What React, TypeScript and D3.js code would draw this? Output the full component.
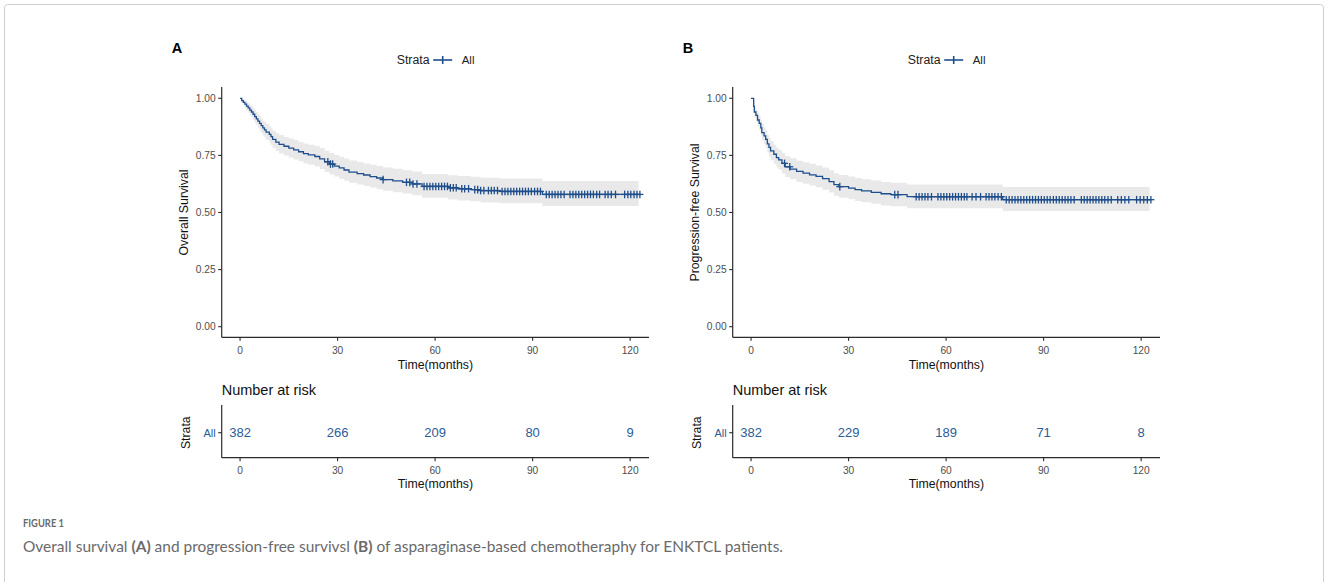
import React from "react";
import * as d3 from "d3";

// ---------- DATA ----------
const xTicks = [0, 30, 60, 90, 120];
const yTicks = [0, 0.25, 0.5, 0.75, 1.0];
const riskTimes = [0, 30, 60, 90, 120];
const osRisk = [382, 266, 209, 80, 9];
const pfsRisk = [382, 229, 189, 71, 8];

const osTime = [0, 0.5, 1, 1.5, 2, 2.5, 3, 3.5, 4, 4.5, 5, 5.5, 6, 6.5, 7, 7.5, 8, 9, 9.5, 10, 11, 12, 13.5, 15, 16.5, 18, 19.5, 21, 23, 24.5, 26, 27.5, 29, 30.5, 32, 33.5, 36, 38, 40, 42, 44, 47, 50, 53, 56, 64, 67, 71, 74, 80, 93];
const osSurv = [1, 0.99, 0.982, 0.974, 0.966, 0.958, 0.948, 0.94, 0.93, 0.92, 0.91, 0.9, 0.89, 0.88, 0.87, 0.862, 0.852, 0.842, 0.832, 0.82, 0.808, 0.798, 0.79, 0.782, 0.774, 0.766, 0.758, 0.752, 0.745, 0.735, 0.722, 0.712, 0.703, 0.695, 0.686, 0.677, 0.67, 0.664, 0.657, 0.651, 0.644, 0.638, 0.632, 0.625, 0.614, 0.608, 0.604, 0.6, 0.596, 0.592, 0.579];
const osLower = [1, 0.98, 0.968, 0.958, 0.948, 0.938, 0.926, 0.916, 0.905, 0.893, 0.882, 0.871, 0.859, 0.848, 0.837, 0.828, 0.817, 0.806, 0.795, 0.782, 0.769, 0.758, 0.75, 0.741, 0.732, 0.724, 0.715, 0.709, 0.701, 0.69, 0.677, 0.666, 0.657, 0.648, 0.639, 0.63, 0.622, 0.616, 0.609, 0.602, 0.595, 0.589, 0.583, 0.575, 0.564, 0.557, 0.553, 0.549, 0.544, 0.54, 0.528];
const osUpper = [1, 1.0, 0.995, 0.99, 0.984, 0.978, 0.97, 0.964, 0.956, 0.948, 0.939, 0.93, 0.921, 0.912, 0.903, 0.896, 0.887, 0.878, 0.869, 0.859, 0.848, 0.839, 0.831, 0.824, 0.817, 0.809, 0.802, 0.797, 0.791, 0.782, 0.77, 0.76, 0.752, 0.744, 0.736, 0.728, 0.721, 0.715, 0.709, 0.703, 0.697, 0.691, 0.685, 0.679, 0.669, 0.663, 0.66, 0.656, 0.652, 0.649, 0.638];
const osCensor = [27.0, 27.8, 28.5, 44.0, 51.2, 52.2, 53.2, 54.4, 56.6, 57.5, 58.4, 59.3, 60.2, 61.1, 62.0, 62.9, 63.8, 64.7, 65.6, 66.5, 68.2, 69.1, 70.3, 72.2, 73.1, 74.0, 75.0, 76.4, 77.3, 78.2, 79.2, 80.6, 81.5, 82.4, 83.3, 84.2, 85.1, 86.0, 86.9, 87.8, 88.7, 89.6, 90.6, 91.5, 92.4, 94.2, 95.1, 96.0, 96.9, 97.8, 98.7, 99.7, 101.5, 102.4, 103.3, 104.2, 105.1, 106.0, 106.9, 107.8, 108.7, 109.7, 110.6, 112.3, 113.2, 114.2, 115.5, 118.3, 119.3, 120.2, 121.2, 122.1, 123.0];

const pfsTime = [0, 0.8, 1.0, 1.5, 2.0, 2.5, 3.0, 3.3, 4, 4.5, 5, 5.5, 6, 7, 7.8, 8.5, 9.5, 10.5, 12, 14, 16, 18, 20, 22, 24, 25.5, 27, 30, 32, 34, 37, 40, 43, 48, 77.4];
const pfsSurv = [1, 0.965, 0.94, 0.925, 0.905, 0.89, 0.87, 0.85, 0.835, 0.82, 0.8, 0.785, 0.77, 0.755, 0.74, 0.73, 0.715, 0.7, 0.69, 0.68, 0.672, 0.665, 0.658, 0.648, 0.635, 0.622, 0.613, 0.607, 0.6, 0.595, 0.588, 0.582, 0.578, 0.569, 0.556];
const pfsLower = [1, 0.945, 0.916, 0.898, 0.876, 0.859, 0.837, 0.815, 0.798, 0.782, 0.761, 0.745, 0.729, 0.713, 0.697, 0.687, 0.671, 0.655, 0.645, 0.634, 0.626, 0.618, 0.611, 0.6, 0.587, 0.573, 0.564, 0.558, 0.55, 0.545, 0.538, 0.531, 0.527, 0.518, 0.506];
const pfsUpper = [1, 0.984, 0.963, 0.951, 0.934, 0.921, 0.904, 0.886, 0.872, 0.858, 0.84, 0.826, 0.812, 0.797, 0.783, 0.774, 0.76, 0.746, 0.737, 0.727, 0.72, 0.713, 0.706, 0.697, 0.685, 0.672, 0.664, 0.658, 0.651, 0.646, 0.64, 0.634, 0.63, 0.622, 0.612];
const pfsCensor = [10.3, 11.9, 27.3, 44.2, 45.2, 50.8, 51.7, 52.6, 53.5, 54.4, 55.5, 57.5, 58.4, 59.3, 60.2, 61.1, 62.0, 62.9, 63.8, 64.7, 65.6, 66.4, 68.0, 69.2, 70.6, 72.3, 73.2, 74.1, 75.0, 76.0, 77.0, 78.5, 79.4, 80.3, 81.2, 82.1, 83.0, 83.9, 84.8, 85.7, 86.6, 87.5, 88.4, 89.3, 90.2, 91.1, 92.0, 93.0, 93.9, 94.8, 95.7, 96.6, 97.5, 98.4, 99.4, 101.6, 102.5, 103.4, 104.3, 105.2, 106.1, 107.0, 107.9, 108.8, 109.8, 110.8, 112.8, 113.9, 115.0, 116.2, 118.6, 119.7, 120.8, 121.9, 123.0];

const endTime = 123;
const bandEnd = 122.6;

// ---------- STYLE ----------
const FONT = "'Liberation Sans', Arial, sans-serif";
const LINE = "#1F4E8C";
const BAND = "#E9E9E9";
const AXIS = "#2b2b2b";
const TICKTXT = "#4D4D4D";
const RISKCOL = "#2C5C97";

type PanelProps = {
  letter: string;
  left: number;
  yTitle: string;
  time: number[];
  surv: number[];
  lower: number[];
  upper: number[];
  censor: number[];
  risk: number[];
};

function Panel({ letter, left, yTitle, time, surv, lower, upper, censor, risk }: PanelProps) {
  const axisLeft = left;
  const axisRight = left + 427.3;
  const x = d3.scaleLinear().domain([-5.65, 125.8]).range([axisLeft, axisRight]);
  const y = d3.scaleLinear().domain([-0.0465, 1.0494]).range([337.3, 87]);
  const yTop = 87;
  const yBot = 337.3;

  const pts = time.map((t, i) => ({ t, s: surv[i], lo: lower[i], hi: upper[i] }));
  const linePts = [...pts, { ...pts[pts.length - 1], t: endTime }];
  const bandPts = [...pts, { ...pts[pts.length - 1], t: bandEnd }];

  const line = d3.line<any>().x((d) => x(d.t)).y((d) => y(d.s)).curve(d3.curveStepAfter);
  const area = d3
    .area<any>()
    .x((d) => x(d.t))
    .y0((d) => y(d.lo))
    .y1((d) => y(d.hi))
    .curve(d3.curveStepAfter);

  const survAt = (t: number) => {
    let s = 1;
    for (let i = 0; i < time.length; i++) if (time[i] <= t) s = surv[i];
    return s;
  };

  // risk table
  const rTop = 405;
  const rBot = 457.7;
  const rowY = 432.7;
  const xr = x;

  return (
    <g fontFamily={FONT}>
      <text x={axisLeft - 50} y={53} fontSize={14.5} fontWeight="bold" fill="#000">
        {letter}
      </text>
      {/* legend */}
      <g>
        <text x={axisLeft + 175} y={64.3} fontSize={12.3} fill="#222">Strata</text>
        <line x1={axisLeft + 211.5} x2={axisLeft + 230.5} y1={60} y2={60} stroke={LINE} strokeWidth={1.6} />
        <line x1={axisLeft + 221} x2={axisLeft + 221} y1={56} y2={64} stroke={LINE} strokeWidth={1.6} />
        <text x={axisLeft + 240} y={64.3} fontSize={11.5} fill="#222">All</text>
      </g>
      {/* band and curve */}
      <path d={area(bandPts) || ""} fill={BAND} stroke="none" />
      <path d={line(linePts) || ""} fill="none" stroke={LINE} strokeWidth={1.3} />
      {censor.map((c, i) => {
        const cx = x(c);
        const cy = y(survAt(c));
        return (
          <g key={i} stroke={LINE} strokeWidth={1.3}>
            <line x1={cx - 3.5} x2={cx + 3.5} y1={cy} y2={cy} />
            <line x1={cx} x2={cx} y1={cy - 3.8} y2={cy + 3.8} />
          </g>
        );
      })}
      {/* axes */}
      <line x1={axisLeft} x2={axisLeft} y1={yTop} y2={yBot} stroke={AXIS} strokeWidth={1.2} />
      <line x1={axisLeft} x2={axisRight} y1={yBot} y2={yBot} stroke={AXIS} strokeWidth={1.2} />
      {yTicks.map((v) => (
        <g key={v}>
          <line x1={axisLeft - 3.5} x2={axisLeft} y1={y(v)} y2={y(v)} stroke={AXIS} strokeWidth={1.1} />
          <text x={axisLeft - 6} y={y(v) + 3.6} fontSize={10.2} fill={TICKTXT} textAnchor="end">
            {v.toFixed(2)}
          </text>
        </g>
      ))}
      {xTicks.map((v) => (
        <g key={v}>
          <line x1={x(v)} x2={x(v)} y1={yBot} y2={yBot + 3.5} stroke={AXIS} strokeWidth={1.1} />
          <text x={x(v)} y={353.8} fontSize={10.2} fill={TICKTXT} textAnchor="middle">
            {v}
          </text>
        </g>
      ))}
      <text x={(axisLeft + axisRight) / 2} y={369.3} fontSize={12.3} fill="#111" textAnchor="middle">
        Time(months)
      </text>
      <text
        transform={`translate(${axisLeft - 33.5},${(y(0) + y(1)) / 2}) rotate(-90)`}
        fontSize={12.3}
        fill="#111"
        textAnchor="middle"
      >
        {yTitle}
      </text>

      {/* risk table */}
      <text x={axisLeft} y={395.2} fontSize={14.5} fill="#111">Number at risk</text>
      <line x1={axisLeft} x2={axisLeft} y1={rTop} y2={rBot} stroke={AXIS} strokeWidth={1.2} />
      <line x1={axisLeft} x2={axisRight} y1={rBot} y2={rBot} stroke={AXIS} strokeWidth={1.2} />
      <line x1={axisLeft - 3.5} x2={axisLeft} y1={rowY} y2={rowY} stroke={AXIS} strokeWidth={1.1} />
      <text x={axisLeft - 6} y={rowY + 3.8} fontSize={11} fill={RISKCOL} textAnchor="end">All</text>
      <text
        transform={`translate(${axisLeft - 32},${rowY}) rotate(-90)`}
        fontSize={12.3}
        fill="#111"
        textAnchor="middle"
      >
        Strata
      </text>
      {riskTimes.map((t, i) => (
        <text key={t} x={xr(t)} y={rowY + 4.6} fontSize={13} fill={RISKCOL} textAnchor="middle">
          {risk[i]}
        </text>
      ))}
      {xTicks.map((v) => (
        <g key={"r" + v}>
          <line x1={xr(v)} x2={xr(v)} y1={rBot} y2={rBot + 3.5} stroke={AXIS} strokeWidth={1.1} />
          <text x={xr(v)} y={474} fontSize={10.2} fill={TICKTXT} textAnchor="middle">
            {v}
          </text>
        </g>
      ))}
      <text x={(axisLeft + axisRight) / 2} y={487.5} fontSize={12.3} fill="#111" textAnchor="middle">
        Time(months)
      </text>
    </g>
  );
}

export default function App() {
  return (
    <svg
      width={1328}
      height={582}
      style={{ position: "absolute", left: 0, top: 0, background: "#fff" }}
      xmlns="http://www.w3.org/2000/svg"
    >
      <rect x={0} y={0} width={1328} height={582} fill="#fff" />
      <rect x={4.5} y={4.5} width={1319} height={620} rx={3} fill="none" stroke="#cfcfcf" strokeWidth={1} />
      <Panel
        letter="A"
        left={221.7}
        yTitle="Overall Survival"
        time={osTime}
        surv={osSurv}
        lower={osLower}
        upper={osUpper}
        censor={osCensor}
        risk={osRisk}
      />
      <Panel
        letter="B"
        left={732.7}
        yTitle="Progression-free Survival"
        time={pfsTime}
        surv={pfsSurv}
        lower={pfsLower}
        upper={pfsUpper}
        censor={pfsCensor}
        risk={pfsRisk}
      />
      <g fontFamily="Lato, 'Open Sans', sans-serif">
        <text x={23} y={527} fontSize={11} fontWeight={700} fill="#6a6a6a" textLength={41} lengthAdjust="spacingAndGlyphs">
          FIGURE 1
        </text>
        <text x={23} y={552} fontSize={15} fill="#6a6a6a" textLength={760} lengthAdjust="spacingAndGlyphs">
          Overall survival <tspan fontWeight={700}>(A)</tspan> and progression-free survivsl{" "}
          <tspan fontWeight={700}>(B)</tspan> of asparaginase-based chemotheraphy for ENKTCL patients.
        </text>
      </g>
    </svg>
  );
}
